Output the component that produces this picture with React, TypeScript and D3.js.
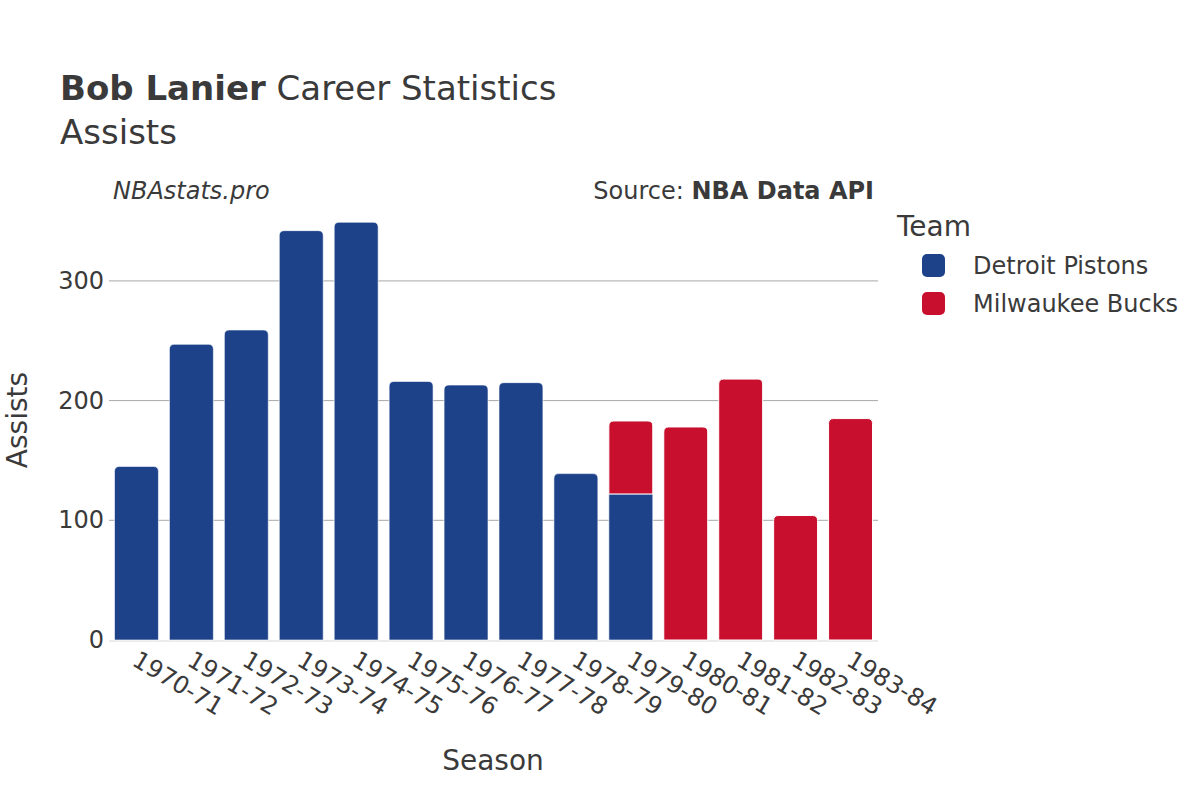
import * as d3 from "d3";

// season labels on the x axis
const seasons = [
  "1970-71", "1971-72", "1972-73", "1973-74", "1974-75", "1975-76", "1976-77",
  "1977-78", "1978-79", "1979-80", "1980-81", "1981-82", "1982-83", "1983-84",
];
// assists per team, 0 where he did not play for them
const pistons = [145, 247, 259, 342, 349, 216, 213, 215, 139, 122, 0, 0, 0, 0];
const bucks = [0, 0, 0, 0, 0, 0, 0, 0, 0, 61, 178, 218, 104, 185];
const teams = ["Detroit Pistons", "Milwaukee Bucks"];
const yTicks = [0, 100, 200, 300];

const COLORS = ["#1d428a", "#c8102e"];
const FONT = "'DejaVu Sans', Verdana, sans-serif";
const TXT = "#3a3a3a";

// path for a bar, top corners rounded when needed
function barPath(x: number, y: number, w: number, h: number, r: number) {
  if (h <= 0) return "";
  const rr = Math.min(r, h, w / 2);
  if (rr <= 0) return `M${x},${y + h}V${y}H${x + w}V${y + h}Z`;
  return (
    `M${x},${y + h}V${y + rr}Q${x},${y} ${x + rr},${y}` +
    `H${x + w - rr}Q${x + w},${y} ${x + w},${y + rr}V${y + h}Z`
  );
}

export default function App() {
  const width = 1200;
  const height = 800;
  const margin = { left: 109, right: 322, top: 200, bottom: 160 };

  const x = d3
    .scaleBand()
    .domain(seasons)
    .range([margin.left, width - margin.right])
    .paddingInner(0.2)
    .paddingOuter(0.1);

  const y = d3.scaleLinear().domain([0, 367.6]).range([height - margin.bottom, margin.top]);

  const series = [pistons, bucks];

  return (
    <svg
      width={width}
      height={height}
      style={{ position: "absolute", left: 0, top: 0, background: "#fff" }}
      fontFamily={FONT}
    >
      {/* titles */}
      <text x={60} y={100} fontSize={34} fill={TXT}>
        <tspan fontWeight="bold">Bob Lanier</tspan> Career Statistics
      </text>
      <text x={60} y={144} fontSize={34} fill={TXT}>
        Assists
      </text>
      <text x={113} y={199} fontSize={24} fontStyle="italic" fill={TXT}>
        NBAstats.pro
      </text>
      <text x={874} y={199} fontSize={24} textAnchor="end" fill={TXT}>
        Source: <tspan fontWeight="bold">NBA Data API</tspan>
      </text>

      {/* gridlines + y ticks */}
      {yTicks.map((t) => (
        <g key={t}>
          {t > 0 && (
            <line
              x1={margin.left}
              x2={width - margin.right}
              y1={y(t)}
              y2={y(t)}
              stroke="#a8a8a8"
              strokeWidth={1}
            />
          )}
          <text x={104} y={y(t) + 8} fontSize={24} textAnchor="end" fill={TXT}>
            {t}
          </text>
        </g>
      ))}
      <line
        x1={margin.left}
        x2={width - margin.right}
        y1={y(0) + 1}
        y2={y(0) + 1}
        stroke="#ebebeb"
        strokeWidth={2}
      />

      {/* stacked bars */}
      {seasons.map((s, i) => {
        let base = 0;
        return series.map((vals, k) => {
          const v = vals[i];
          if (!v) return null;
          const above = series.slice(k + 1).some((sv) => sv[i] > 0);
          const y0 = y(base);
          const y1 = y(base + v);
          base += v;
          return (
            <path
              key={s + k}
              d={barPath(x(s)!, y1, x.bandwidth(), y0 - y1, above ? 0 : 5)}
              fill={COLORS[k]}
              stroke="#fff"
              strokeWidth={k > 0 ? 1 : 0.6}
            />
          );
        });
      })}

      {/* x tick labels */}
      {seasons.map((s) => (
        <text
          key={s}
          transform={`translate(${x(s)! + x.bandwidth() / 2 + 3},${y(0) + 10}) rotate(31)`}
          fontSize={24}
          fill={TXT}
          dy="0.7em"
        >
          {s}
        </text>
      ))}

      {/* axis titles */}
      <text x={493} y={770} fontSize={28} textAnchor="middle" fill={TXT}>
        Season
      </text>
      <text
        transform={`translate(27,${(y(0) + margin.top) / 2}) rotate(-90)`}
        fontSize={28}
        textAnchor="middle"
        fill={TXT}
      >
        Assists
      </text>

      {/* legend */}
      <text x={897} y={236} fontSize={28} fill={TXT}>
        Team
      </text>
      {teams.map((t, i) => (
        <g key={t} transform={`translate(922,${254 + i * 38})`}>
          <rect width={23} height={23} rx={5} fill={COLORS[i]} />
          <text x={51} y={20} fontSize={24} fill={TXT}>
            {t}
          </text>
        </g>
      ))}
    </svg>
  );
}
